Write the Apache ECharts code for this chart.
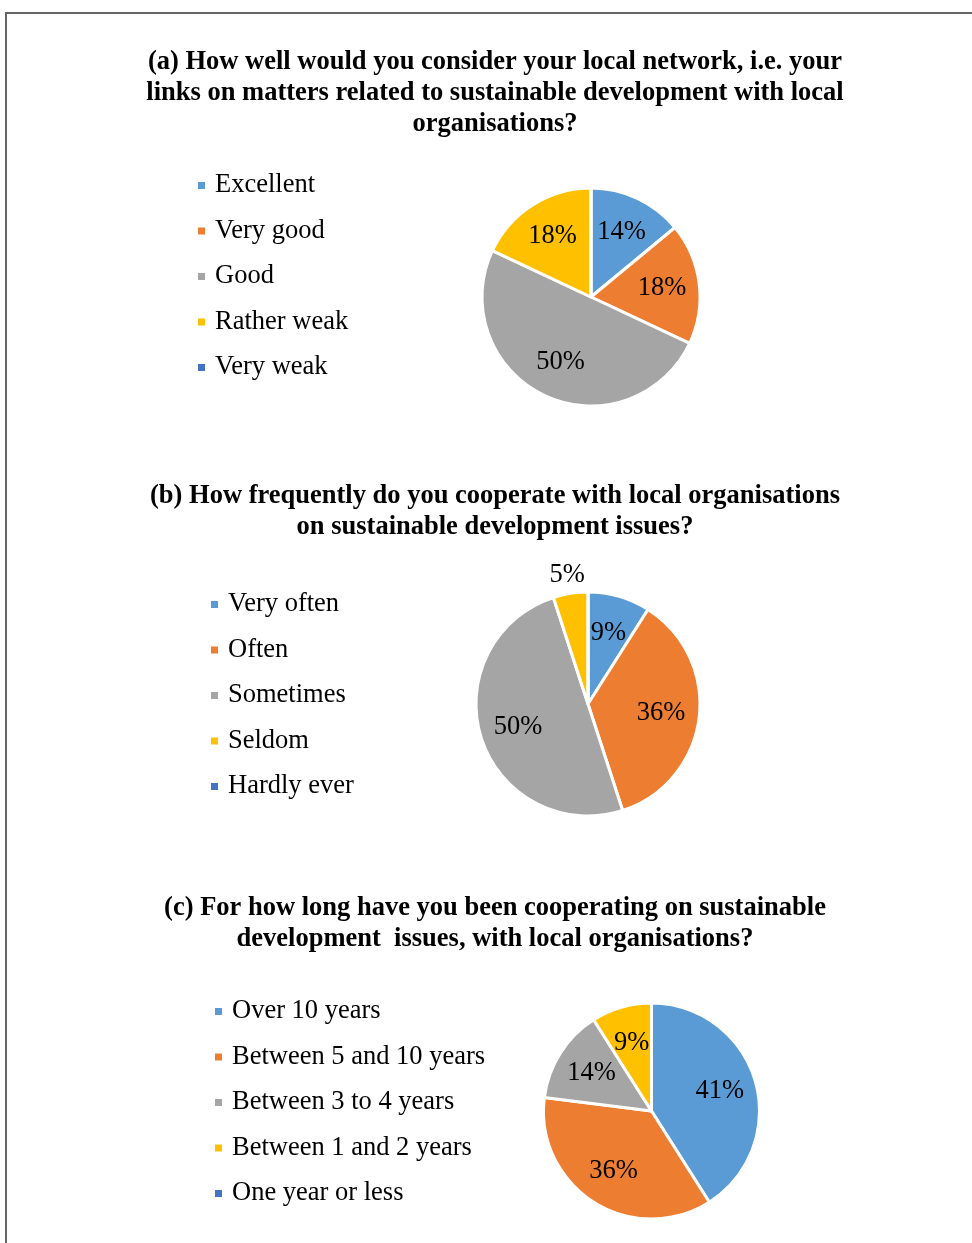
<!DOCTYPE html>
<html>
<head>
<meta charset="utf-8">
<script src="https://cdn.jsdelivr.net/npm/echarts@6/dist/echarts.min.js"></script>
<style>html,body{margin:0;padding:0;background:#fff;}#c{width:972px;height:1243px;}</style>
</head>
<body>
<div id="c"></div>
<script>
const titleA = '(a) How well would you consider your local network, i.e. your\nlinks on matters related to sustainable development with local\norganisations?';
const titleB = '(b) How frequently do you cooperate with local organisations\non sustainable development issues?';
const titleC = '(c) For how long have you been cooperating on sustainable\ndevelopment  issues, with local organisations?';

const catsA = ['Excellent', 'Very good', 'Good', 'Rather weak', 'Very weak'];
const valsA = [14, 18, 50, 18, 0];
const catsB = ['Very often', 'Often', 'Sometimes', 'Seldom', 'Hardly ever'];
const valsB = [9, 36, 50, 5, 0];
const catsC = ['Over 10 years', 'Between 5 and 10 years', 'Between 3 to 4 years', 'Between 1 and 2 years', 'One year or less'];
const valsC = [41, 36, 14, 9, 0];

const colors = ['#5B9BD5', '#ED7D31', '#A5A5A5', '#FFC000', '#4472C4'];
const FONT = "'Liberation Serif', 'Times New Roman', serif";
const FS = 26.5;

function toData(cats, vals) {
  return cats.map((n, i) => ({ name: n, value: vals[i], itemStyle: { color: colors[i] } }));
}

function pieSeries(cats, vals, cx, cy, r, outsideIdx) {
  const main = {
    type: 'pie', center: [cx, cy], radius: [0, r], startAngle: 90, clockwise: true,
    silent: true, animation: false, minAngle: 0, avoidLabelOverlap: false,
    itemStyle: { borderColor: '#fff', borderWidth: 3 },
    label: { show: false }, labelLine: { show: false },
    data: toData(cats, vals).map((d, i) => {
      if (i === outsideIdx) {
        d.label = { show: true, position: 'outside', formatter: '{c}%', fontFamily: FONT, fontSize: FS, color: '#000', offset: [20, -14] };
        d.labelLine = { show: false, length: 4, length2: 0 };
      }
      return d;
    })
  };
  const lab = {
    type: 'pie', center: [cx, cy], radius: [r * 0.26, r], startAngle: 90, clockwise: true,
    silent: true, animation: false, avoidLabelOverlap: false,
    itemStyle: { color: 'rgba(0,0,0,0)', borderWidth: 0 },
    label: {
      show: true, position: 'inside', fontFamily: FONT, fontSize: FS, color: '#000',
      formatter: p => (p.value > 0 && p.dataIndex !== outsideIdx) ? p.value + '%' : ''
    },
    labelLine: { show: false },
    data: cats.map((n, i) => ({ name: n, value: vals[i] }))
  };
  return [main, lab];
}

function legend(cats, left, top) {
  return {
    data: cats, orient: 'vertical', left: left, top: top, icon: 'rect',
    itemWidth: 9, itemHeight: 9, itemGap: 18.5, selectedMode: false,
    textStyle: { fontFamily: FONT, fontSize: FS, color: '#000', padding: [0, 0, 0, 4] }
  };
}

function title(text, top) {
  return {
    text: text, left: 490, top: top, textAlign: 'center',
    textStyle: { fontFamily: FONT, fontWeight: 'bold', fontSize: 26.5, lineHeight: 31, color: '#000' }
  };
}

const chart = echarts.init(document.getElementById('c'), null, { renderer: 'canvas' });
chart.setOption({
  animation: false,
  backgroundColor: '#fff',
  color: colors,
  title: [title(titleA, 42), title(titleB, 476), title(titleC, 888)],
  legend: [legend(catsA, 191, 167), legend(catsB, 204, 586), legend(catsC, 208, 993)],
  graphic: [{
    type: 'rect', shape: { x: 6, y: 13, width: 1100, height: 1400 },
    style: { fill: 'none', stroke: '#666', lineWidth: 2 }, silent: true, z: -1
  }],
  series: [
    ...pieSeries(catsA, valsA, 591, 297, 109, -1),
    ...pieSeries(catsB, valsB, 588, 704, 112, 3),
    ...pieSeries(catsC, valsC, 651.5, 1111, 108, -1)
  ]
});
</script>
</body>
</html>
